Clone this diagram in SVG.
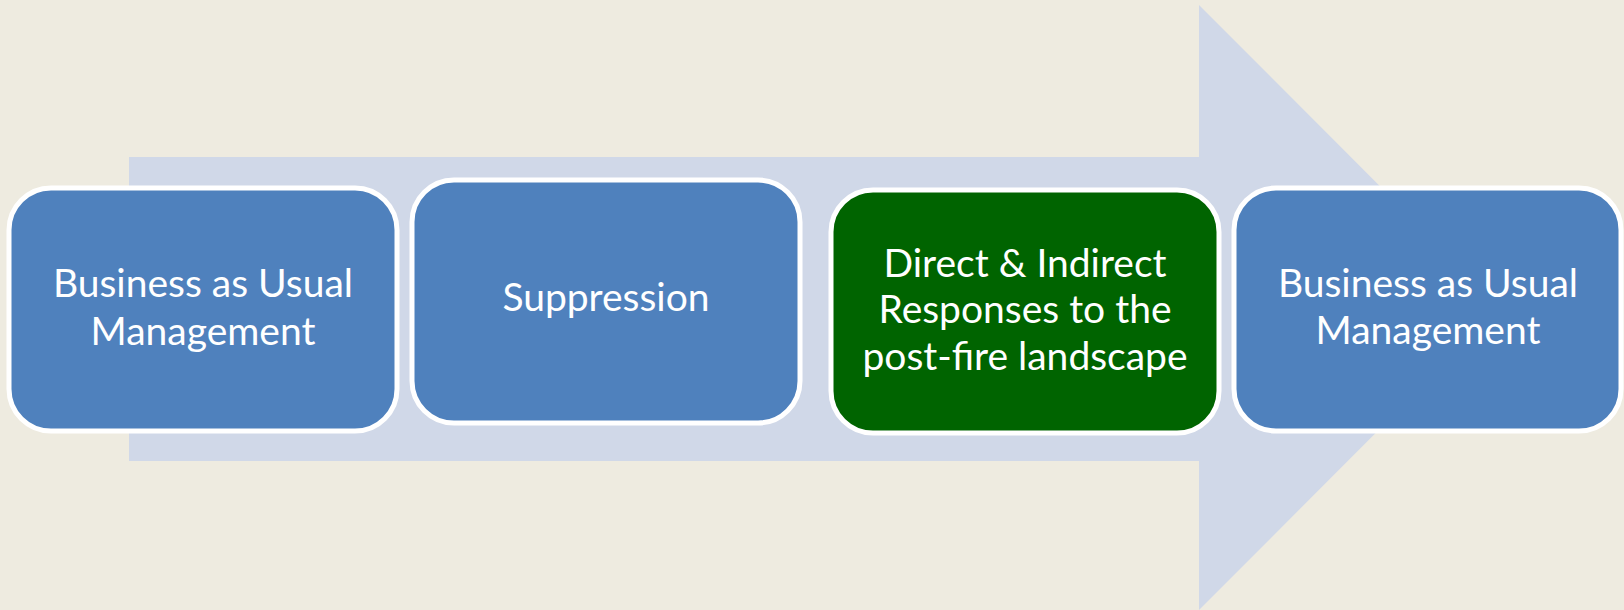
<svg xmlns="http://www.w3.org/2000/svg" width="1624" height="610" viewBox="0 0 1624 610">
  <style>
    .node { stroke: #FFFFFF; stroke-width: 5; }
    .blue { fill: #4F81BD; }
    .green { fill: #006400; }
    .label { fill: #FFFFFF; font-family: Lato, "Open Sans", "Liberation Sans", sans-serif; font-size: 39px; text-anchor: middle; }
  </style>
  <rect x="0" y="0" width="1624" height="610" fill="#EEEBE0"/>
  <g id="connectors">
    <polygon points="129,157 1199,157 1199,5 1501,307.5 1199,610 1199,461 129,461" fill="#D0D8E8"/>
  </g>
  <g id="node1">
    <rect class="node blue" x="9" y="188" width="388" height="243" rx="42" ry="42"/>
    <text class="label" x="203" y="297">Business as Usual</text>
    <text class="label" x="203" y="345">Management</text>
  </g>
  <g id="node2">
    <rect class="node blue" x="412" y="180" width="388" height="243" rx="42" ry="42"/>
    <text class="label" x="606" y="311">Suppression</text>
  </g>
  <g id="node3">
    <rect class="node green" x="831" y="190" width="388" height="243" rx="42" ry="42"/>
    <text class="label" x="1025" y="277">Direct &amp; Indirect</text>
    <text class="label" x="1025" y="323">Responses to the</text>
    <text class="label" x="1025" y="370">post-fire landscape</text>
  </g>
  <g id="node4">
    <rect class="node blue" x="1234" y="188" width="387" height="243" rx="42" ry="42"/>
    <text class="label" x="1428" y="297">Business as Usual</text>
    <text class="label" x="1428" y="344">Management</text>
  </g>
</svg>
